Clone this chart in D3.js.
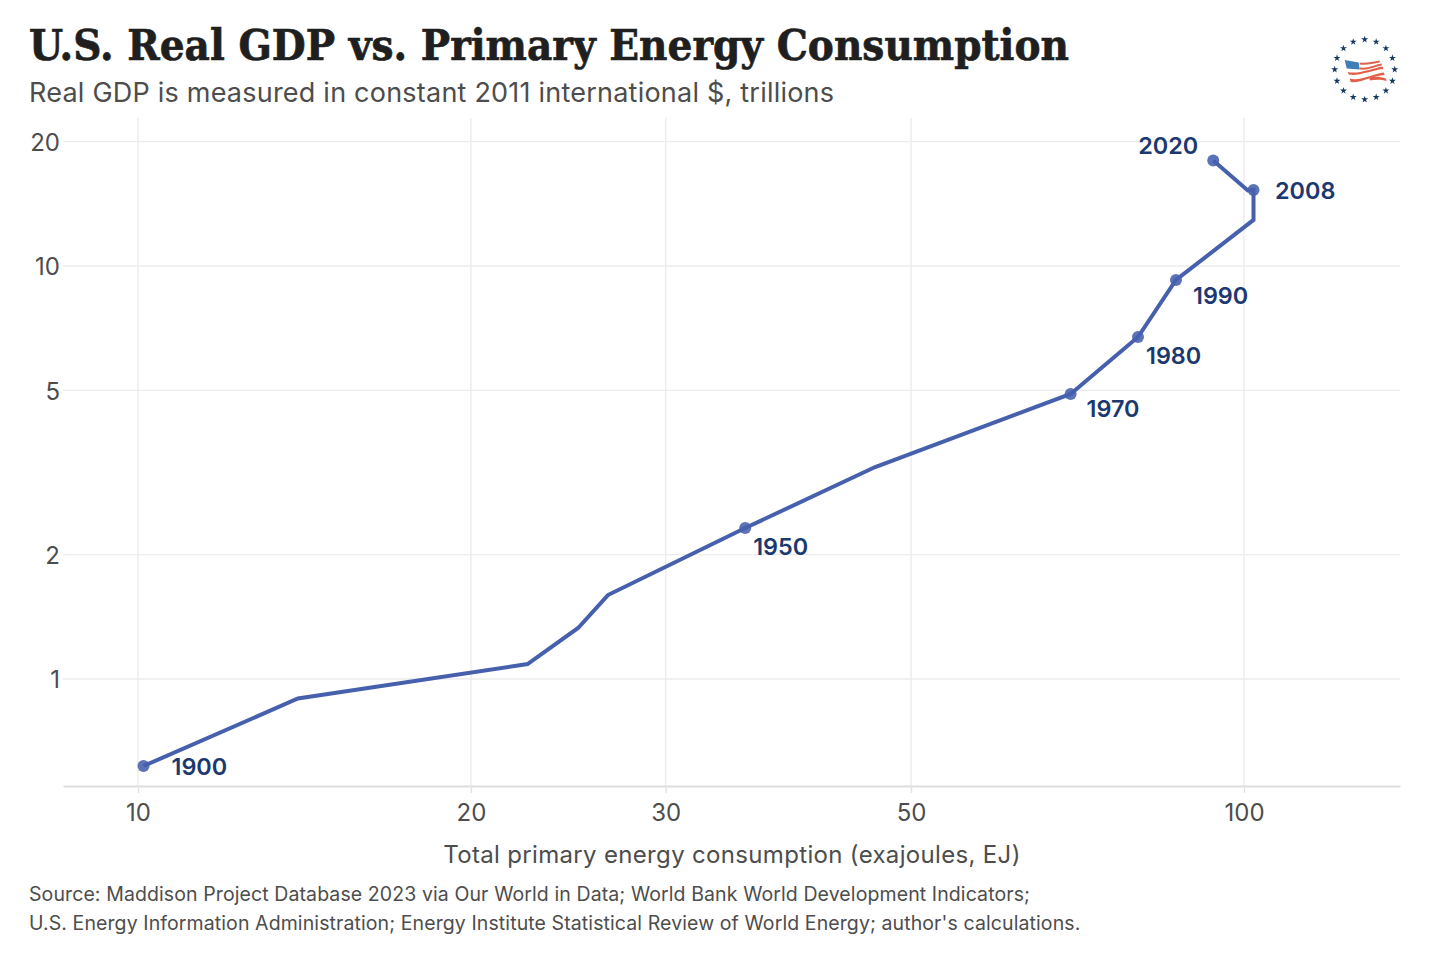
<!DOCTYPE html>
<html>
<head>
<meta charset="utf-8">
<script src="https://cdnjs.cloudflare.com/ajax/libs/d3/7.8.5/d3.min.js"></script>
<style>
html,body{margin:0;padding:0;background:#fff}
svg{display:block}
text{font-family:Inter,"Noto Sans",sans-serif}
</style>
</head>
<body>
<svg id="chart" width="1429" height="953"></svg>
<script>
// Primary energy (EJ) and real GDP (trillions) along the U.S. path, 1900-2020
const energy = [10.115, 13.95, 22.5, 25.0, 26.6, 35.4, 46.4, 69.7, 80.2, 86.8, 102.0, 102.0, 100.8, 93.8];
const gdp = [0.6156, 0.897, 1.087, 1.329, 1.597, 2.32, 3.26, 4.90, 6.73, 9.25, 12.93, 15.28, 15.24, 18.0];
const years = [1900, null, null, null, null, 1950, null, 1970, 1980, 1990, null, 2008, null, 2020];
const xTicks = [10, 20, 30, 50, 100];
const yTicks = [1, 2, 5, 10, 20];
const labelDx = {1900: 28, 1950: 8, 1970: 16, 1980: 8, 1990: 17, 2008: 21.5, 2020: -15};
const labelDy = {1900: 9, 1950: 27, 1970: 23.5, 1980: 27, 1990: 24, 2008: 9, 2020: -6.5};
const labelAnchor = {2020: "end"};

const titleText = "U.S. Real GDP vs. Primary Energy Consumption";
const subtitleText = "Real GDP is measured in constant 2011 international $, trillions";
const xTitle = "Total primary energy consumption (exajoules, EJ)";
const sourceLines = [
  "Source: Maddison Project Database 2023 via Our World in Data; World Bank World Development Indicators;",
  "U.S. Energy Information Administration; Energy Institute Statistical Review of World Energy; author's calculations."
];

const svg = d3.select("#chart");
const plotLeft = 63, plotRight = 1400, plotTop = 118, plotBottom = 786;

const x = d3.scaleLog().domain([10 * Math.pow(10, (plotLeft - 138) / 1106), 10 * Math.pow(10, (plotRight - 138) / 1106)]).range([plotLeft, plotRight]);
const y = d3.scaleLog().domain([Math.pow(10, (679 - plotBottom) / 413), Math.pow(10, (679 - plotTop) / 413)]).range([plotBottom, plotTop]);

// Grid
const grid = svg.append("g").attr("stroke", "#ececec").attr("stroke-width", 1.4);
grid.selectAll("line.v").data(xTicks).join("line").attr("class", "v")
  .attr("x1", x).attr("x2", x).attr("y1", plotTop).attr("y2", plotBottom);
grid.selectAll("line.h").data(yTicks).join("line").attr("class", "h")
  .attr("x1", plotLeft).attr("x2", plotRight).attr("y1", y).attr("y2", y);

// Axes
const xAxis = svg.append("g").attr("transform", `translate(0,${plotBottom})`)
  .call(d3.axisBottom(x).tickValues(xTicks).tickFormat(d3.format("d")).tickSize(7).tickSizeOuter(0).tickPadding(11));
xAxis.select(".domain").attr("stroke", "#dedede").attr("stroke-width", 2);
xAxis.selectAll(".tick line").attr("stroke", "#e2e2e2").attr("stroke-width", 1.4);
xAxis.selectAll("text").attr("font-size", 24).attr("fill", "#4d4d4d").attr("font-family", "Inter");

const yAxis = svg.append("g").attr("transform", `translate(${plotLeft},1)`)
  .call(d3.axisLeft(y).tickValues(yTicks).tickFormat(d3.format("d")).tickSize(0).tickPadding(3));
yAxis.select(".domain").remove();
yAxis.selectAll("text").attr("font-size", 24).attr("fill", "#4d4d4d").attr("font-family", "Inter");

// Path
const series = energy.map((e, i) => ({e, g: gdp[i], year: years[i]}));
svg.append("path").datum(series)
  .attr("fill", "none").attr("stroke", "#4760ad").attr("stroke-width", 4).attr("stroke-linejoin", "miter")
  .attr("d", d3.line().x(d => x(d.e)).y(d => y(d.g)));

const marked = series.filter(d => d.year !== null);
svg.selectAll("circle.pt").data(marked).join("circle").attr("class", "pt")
  .attr("cx", d => x(d.e)).attr("cy", d => y(d.g)).attr("r", 6)
  .attr("fill", "#4760ad").attr("fill-opacity", 0.88);
svg.selectAll("text.yr").data(marked).join("text").attr("class", "yr")
  .attr("x", d => x(d.e) + labelDx[d.year]).attr("y", d => y(d.g) + labelDy[d.year])
  .attr("text-anchor", d => labelAnchor[d.year] || "start")
  .attr("font-size", 23.4).attr("font-weight", 600).attr("fill", "#1c3870")
  .text(d => d.year);

// Headings and notes
svg.append("text").attr("x", 29).attr("y", 60).attr("font-size", 42.5).attr("font-weight", 700)
  .style("font-family", "'DejaVu Serif',serif").attr("fill", "#1f1f1f")
  .attr("stroke", "#1f1f1f").attr("stroke-width", 0.7)
  .attr("textLength", 1040).attr("lengthAdjust", "spacingAndGlyphs").text(titleText);
svg.append("text").attr("x", 29).attr("y", 102).attr("font-size", 27).attr("letter-spacing", 0.22).attr("fill", "#4d4d4d").text(subtitleText);
svg.append("text").attr("x", 732).attr("y", 863).attr("text-anchor", "middle").attr("font-size", 24).attr("letter-spacing", 0.33).attr("fill", "#4d4d4d").text(xTitle);
svg.selectAll("text.src").data(sourceLines).join("text").attr("class", "src")
  .attr("x", 29).attr("y", (d, i) => 901 + i * 28.5).attr("font-size", 19.5).attr("letter-spacing", 0.1).attr("fill", "#4d4d4d").text(d => d);

// Emblem: ring of stars around a waving flag
const emblem = svg.append("g").attr("transform", "translate(1364.7,69.5)");
const starPath = d3.symbol().type(d3.symbolStar).size(15)();
emblem.selectAll("path.star").data(d3.range(16)).join("path").attr("class", "star")
  .attr("d", starPath).attr("fill", "#17395f")
  .attr("transform", i => {
    const a = i / 16 * 2 * Math.PI;
    return `translate(${30 * Math.sin(a)},${-30 * Math.cos(a)})`;
  });
const stripes = [
  "M-5,-7 C2,-6 8,-8 15,-9 L15,-7 C8,-6 2,-4 -5,-5 Z",
  "M-5,-2 C4,-1 10,-5 17,-6 L17,-4 C10,-3 4,1 -5,0 Z",
  "M-17,2.5 C-6,5 6,-1 18,-3 L18.5,-0.5 C6,1 -6,7 -16,5 Z",
  "M-15,9 C-5,12 9,4 19,3 L20,5.5 C9,6 -5,14 -14,12.5 Z",
  "M5,8 C10,7 16,7 21,9 L22,11.5 C16,9.5 10,10 5,11 Z"
];
emblem.selectAll("path.stripe").data(stripes).join("path").attr("class", "stripe").attr("d", d => d).attr("fill", "#e2604a");
emblem.append("path").attr("d", "M-20,-9.5 L-6,-7 L-5,0 L-18,-1 Z").attr("fill", "#3f7fb8");
</script>
</body>
</html>
